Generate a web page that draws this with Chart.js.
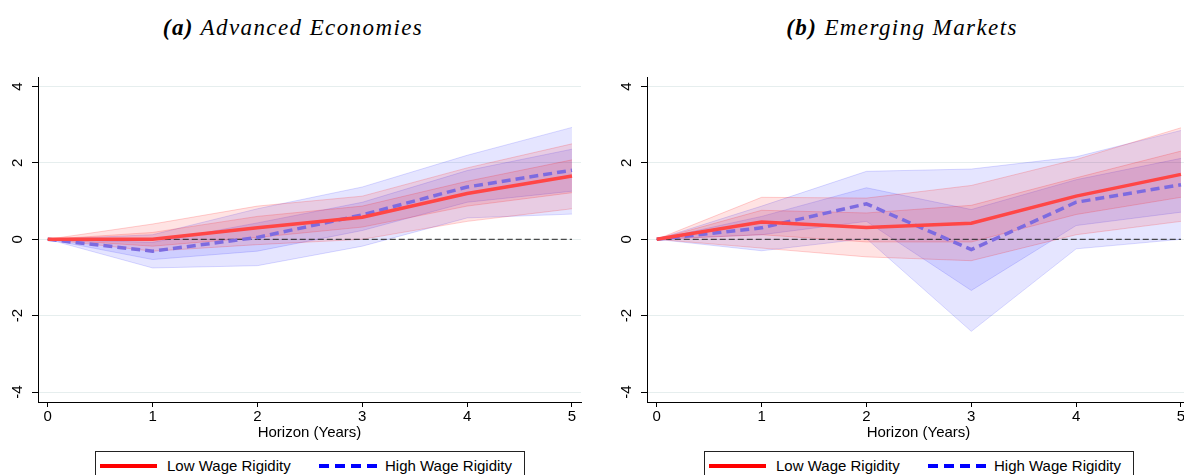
<!DOCTYPE html>
<html>
<head>
<meta charset="utf-8">
<script src="https://cdn.jsdelivr.net/npm/chart.js@4.4.0/dist/chart.umd.min.js"></script>
<style>
  body { margin:0; width:1184px; height:475px; overflow:hidden; background:#fff; position:relative; font-family:"Liberation Sans", Arial, sans-serif; }
  .titulo { position:absolute; top:15px; width:400px; line-height:26px; text-align:center; font-family:"Liberation Serif", serif; font-style:italic; font-size:23px; letter-spacing:1.4px; color:#000; white-space:nowrap; }
  .panel { position:absolute; top:60px; }
  .leyenda { position:absolute; top:451px; width:430px; height:40px; border:1px solid #222; box-sizing:border-box; font-size:15px; color:#000; }
  .leyenda svg { position:absolute; top:10px; }
  .leyenda span { position:absolute; top:5px; line-height:18px; white-space:nowrap; }
</style>
</head>
<body>
<div class="titulo" style="left:93px"><b>(a)</b> Advanced Economies</div>
<div class="titulo" style="left:702px"><b>(b)</b> Emerging Markets</div>

<canvas id="graficoAE" class="panel" width="592" height="382" style="left:0px"></canvas>
<canvas id="graficoEM" class="panel" width="592" height="382" style="left:609px"></canvas>

<div class="leyenda" style="left:95px">
  <svg width="58" height="8" style="left:4px"><line x1="0" y1="4" x2="57" y2="4" stroke="#ff0000" stroke-width="4"/></svg>
  <span style="left:71px">Low Wage Rigidity</span>
  <svg width="60" height="8" style="left:223px"><line x1="0" y1="4" x2="59" y2="4" stroke="#0000ff" stroke-width="4" stroke-dasharray="10 6"/></svg>
  <span style="left:289px">High Wage Rigidity</span>
</div>
<div class="leyenda" style="left:704px">
  <svg width="58" height="8" style="left:4px"><line x1="0" y1="4" x2="57" y2="4" stroke="#ff0000" stroke-width="4"/></svg>
  <span style="left:71px">Low Wage Rigidity</span>
  <svg width="60" height="8" style="left:223px"><line x1="0" y1="4" x2="59" y2="4" stroke="#0000ff" stroke-width="4" stroke-dasharray="10 6"/></svg>
  <span style="left:289px">High Wage Rigidity</span>
</div>

<script>
//----------------- DATOS ------------------
var horizon = [0, 1, 2, 3, 4, 5];
var yTicks = [-4, -2, 0, 2, 4];
var zeroLine = [0, 0, 0, 0, 0, 0];

// (a) Advanced Economies
var aeLow      = [0, 0.00, 0.30, 0.58, 1.20, 1.66];
var aeLowInUp  = [0, 0.18, 0.60, 0.87, 1.52, 2.08];
var aeLowInLo  = [0, -0.18, 0.05, 0.32, 0.87, 1.22];
var aeLowOutUp = [0, 0.40, 0.87, 1.13, 1.87, 2.50];
var aeLowOutLo = [0, -0.31, -0.14, 0.00, 0.47, 0.80];
var aeHigh      = [0, -0.31, 0.05, 0.64, 1.37, 1.81];
var aeHighInUp  = [0, -0.08, 0.43, 0.97, 1.80, 2.36];
var aeHighInLo  = [0, -0.53, -0.31, 0.23, 0.97, 1.26];
var aeHighOutUp = [0, 0.12, 0.80, 1.37, 2.20, 2.93];
var aeHighOutLo = [0, -0.75, -0.69, -0.18, 0.56, 0.66];

// (b) Emerging Markets
var emLow      = [0, 0.45, 0.31, 0.42, 1.13, 1.70];
var emLowInUp  = [0, 0.76, 0.69, 0.89, 1.61, 2.31];
var emLowInLo  = [0, 0.12, -0.07, -0.07, 0.65, 1.10];
var emLowOutUp = [0, 1.10, 1.08, 1.41, 2.09, 2.92];
var emLowOutLo = [0, -0.23, -0.46, -0.56, 0.12, 0.47];
var emHigh      = [0, 0.30, 0.93, -0.27, 0.97, 1.43];
var emHighInUp  = [0, 0.60, 1.35, 0.78, 1.56, 2.12];
var emHighInLo  = [0, 0.12, 0.47, -1.34, 0.36, 0.71];
var emHighOutUp = [0, 0.87, 1.78, 1.84, 2.16, 2.85];
var emHighOutLo = [0, -0.30, 0.02, -2.41, -0.25, 0.00];
//----------------- FIN DATOS --------------

var fuente = "'Liberation Sans', Arial, sans-serif";
var redFill = 'rgba(255, 0, 0, 0.11)';
var redEdge = 'rgba(255, 0, 0, 0.18)';
var blueFill = 'rgba(0, 0, 255, 0.10)';
var blueEdge = 'rgba(0, 0, 255, 0.14)';

//-----------------FUNCIONES------------------
function pts(vals) {
    return vals.map(function (v, i) { return { x: horizon[i], y: v }; });
}

function linea(label, vals, color, width, dash) {
    return {
        label: label, data: pts(vals),
        borderColor: color, borderWidth: width, borderDash: dash || [],
        pointRadius: 0, fill: false, tension: 0
    };
}

// upper edge fills down to the next dataset (the lower edge)
function banda(vals, borde, relleno) {
    return {
        data: pts(vals), borderColor: borde, borderWidth: 1, pointRadius: 0, tension: 0,
        fill: relleno ? '+1' : false, backgroundColor: relleno || 'transparent'
    };
}

function create_chart(id, s) {
    var ctx = document.getElementById(id).getContext('2d');
    // first dataset is drawn on top
    var datasets = [
        linea('Low Wage Rigidity', s.low, '#ff4646', 3.5),
        linea('High Wage Rigidity', s.high, '#7d6be0', 3.5, [9, 5]),
        linea('zero', zeroLine, '#222', 1, [6, 3]),
        banda(s.lowInUp, redEdge, redFill), banda(s.lowInLo, redEdge),
        banda(s.lowOutUp, redEdge, redFill), banda(s.lowOutLo, redEdge),
        banda(s.highInUp, blueEdge, blueFill), banda(s.highInLo, blueEdge),
        banda(s.highOutUp, blueEdge, blueFill), banda(s.highOutLo, blueEdge)
    ];
    return new Chart(ctx, {
        type: 'line',
        data: { datasets: datasets },
        options: {
            animation: false, responsive: false,
            layout: { padding: { top: 17, right: 11, left: 0, bottom: 0 } },
            plugins: { legend: { display: false }, tooltip: { enabled: false } },
            scales: {
                x: {
                    type: 'linear', min: -0.093, max: 5.086,
                    afterBuildTicks: function (sc) { sc.ticks = horizon.map(function (v) { return { value: v }; }); },
                    grid: { drawOnChartArea: false, tickColor: '#000', tickLength: 5 },
                    border: { color: '#000', width: 1 },
                    ticks: { color: '#000', padding: 1, maxRotation: 0, font: { family: fuente, size: 15 } },
                    title: { display: true, text: 'Horizon (Years)', color: '#000', padding: { top: 0, bottom: 0 }, font: { family: fuente, size: 15 } },
                    afterFit: function (sc) { sc.height = 40; }
                },
                y: {
                    type: 'linear', min: -4.26, max: 4.25,
                    afterBuildTicks: function (sc) { sc.ticks = yTicks.map(function (v) { return { value: v }; }); },
                    grid: { color: '#e6eeee', tickColor: '#000', tickLength: 6 },
                    border: { color: '#000', width: 1 },
                    ticks: { color: '#000', minRotation: 90, maxRotation: 90, crossAlign: 'center', padding: 7, font: { family: fuente, size: 15 } },
                    afterFit: function (sc) { sc.width = 38; }
                }
            }
        }
    });
}
//-------------------- FIN FUNCIONES------------

create_chart('graficoAE', {
    low: aeLow, lowInUp: aeLowInUp, lowInLo: aeLowInLo, lowOutUp: aeLowOutUp, lowOutLo: aeLowOutLo,
    high: aeHigh, highInUp: aeHighInUp, highInLo: aeHighInLo, highOutUp: aeHighOutUp, highOutLo: aeHighOutLo
});
create_chart('graficoEM', {
    low: emLow, lowInUp: emLowInUp, lowInLo: emLowInLo, lowOutUp: emLowOutUp, lowOutLo: emLowOutLo,
    high: emHigh, highInUp: emHighInUp, highInLo: emHighInLo, highOutUp: emHighOutUp, highOutLo: emHighOutLo
});
</script>
</body>
</html>
